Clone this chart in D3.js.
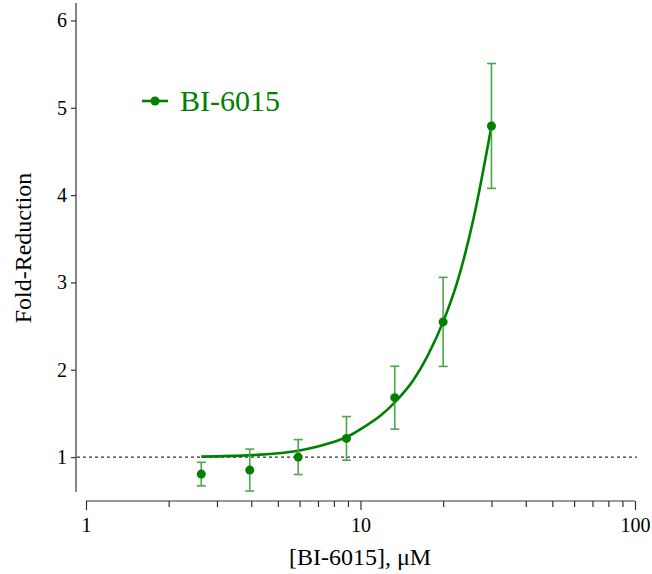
<!DOCTYPE html>
<html>
<head>
<meta charset="utf-8">
<script src="https://cdn.jsdelivr.net/npm/d3@7/dist/d3.min.js"></script>
<style>
  html, body { margin: 0; padding: 0; background: #fff; }
  svg { display: block; }
  text { font-family: "Liberation Serif", "Times New Roman", serif; }
</style>
</head>
<body>
<svg id="chart" width="652" height="574"></svg>
<script>
// ---- data ----
const seriesName = "BI-6015";
const concentrations = [2.63, 3.95, 5.93, 8.89, 13.33, 20, 30];
const foldReduction = [0.805, 0.851, 1.0, 1.214, 1.68, 2.548, 4.792];
const errors = [0.135, 0.24, 0.2, 0.25, 0.36, 0.51, 0.715];
// fitted curve
const curveX = [2.63, 4.0, 6.0, 7.74, 8.91, 10.24, 11.78, 13.36, 15.57, 17.5, 20.3, 22.5, 25.8, 30];
const curveY = [1.005, 1.022, 1.075, 1.16, 1.23, 1.34, 1.47, 1.63, 1.88, 2.15, 2.6, 3.0, 3.73, 4.79];
const xTickValues = [1, 10, 100];
const xMinorTicks = [2, 3, 4, 5, 6, 7, 8, 9, 20, 30, 40, 50, 60, 70, 80, 90];
const yTickValues = [1, 2, 3, 4, 5, 6];
const xTitle = "[BI-6015], μM";
const yTitle = "Fold-Reduction";
const baseline = 1;

// ---- drawing ----
const svg = d3.select("#chart");
const green = "#008000";
const errGreen = "#4aa84a";
const axisColor = "#333";

const x = d3.scaleLog().domain([1, 100]).range([86, 635]);
const y = d3.scaleLinear().domain([0.6, 6.2]).range([492, 3]);

// y axis
const yAxis = svg.append("g").attr("transform", "translate(76,0)")
  .call(d3.axisLeft(y).tickValues(yTickValues).tickSize(5).tickPadding(4).tickFormat(d3.format("d")));
yAxis.select(".domain").attr("d", `M0,${y.range()[0]}V${y.range()[1]}`);
yAxis.selectAll("path,line").attr("stroke", axisColor).attr("stroke-width", 1.2);
yAxis.selectAll("text").attr("font-size", 20).attr("fill", "#000")
  .attr("font-family", "Liberation Serif, serif");

// x axis
const xAxis = svg.append("g").attr("transform", "translate(0,501)")
  .call(d3.axisBottom(x).tickValues(xTickValues).tickSize(9).tickPadding(8).tickFormat(d3.format("d")));
xAxis.select(".domain").attr("d", `M${x.range()[0]},0H${x.range()[1]}`);
xAxis.selectAll("path,line").attr("stroke", axisColor).attr("stroke-width", 1.2);
xAxis.selectAll("text").attr("font-size", 20).attr("fill", "#000")
  .attr("font-family", "Liberation Serif, serif");
const xMinor = svg.append("g").attr("transform", "translate(0,501)")
  .call(d3.axisBottom(x).tickValues(xMinorTicks).tickSize(6).tickFormat(""));
xMinor.select(".domain").remove();
xMinor.selectAll("line").attr("stroke", axisColor).attr("stroke-width", 1.2);

// axis titles
svg.append("text").attr("x", 360).attr("y", 565).attr("text-anchor", "middle")
  .attr("font-size", 24).attr("fill", "#000").text(xTitle);
svg.append("text").attr("transform", `translate(31,${248}) rotate(-90)`)
  .attr("text-anchor", "middle").attr("font-size", 24).attr("fill", "#000").text(yTitle);

// dashed baseline
svg.append("line")
  .attr("x1", 77).attr("x2", 637)
  .attr("y1", y(baseline)).attr("y2", y(baseline))
  .attr("stroke", "#333").attr("stroke-width", 1.2).attr("stroke-dasharray", "3,3");

// fitted curve
const curveData = curveX.map((c, i) => [c, curveY[i]]);
svg.append("path").datum(curveData)
  .attr("d", d3.line().x(d => x(d[0])).y(d => y(d[1])).curve(d3.curveMonotoneX))
  .attr("fill", "none").attr("stroke", green).attr("stroke-width", 2.6);

// error bars
const pts = concentrations.map((c, i) => ({ c, v: foldReduction[i], e: errors[i] }));
const eb = svg.append("g");
pts.forEach(p => {
  const cx = x(p.c);
  eb.append("line").attr("x1", cx).attr("x2", cx).attr("y1", y(p.v + p.e)).attr("y2", y(p.v - p.e))
    .attr("stroke", errGreen).attr("stroke-width", 1.6);
  [p.v + p.e, p.v - p.e].forEach(v => {
    eb.append("line").attr("x1", cx - 4.5).attr("x2", cx + 4.5).attr("y1", y(v)).attr("y2", y(v))
      .attr("stroke", errGreen).attr("stroke-width", 1.6);
  });
});

// markers
svg.append("g").selectAll("circle").data(pts).join("circle")
  .attr("cx", d => x(d.c)).attr("cy", d => y(d.v)).attr("r", 4.5).attr("fill", green);

// legend
const lg = svg.append("g");
lg.append("line").attr("x1", 142).attr("x2", 168).attr("y1", 101).attr("y2", 101)
  .attr("stroke", green).attr("stroke-width", 2.6);
lg.append("circle").attr("cx", 155).attr("cy", 101).attr("r", 4.5).attr("fill", green);
lg.append("text").attr("x", 180).attr("y", 111).attr("font-size", 30).attr("fill", green).text(seriesName);
</script>
</body>
</html>
